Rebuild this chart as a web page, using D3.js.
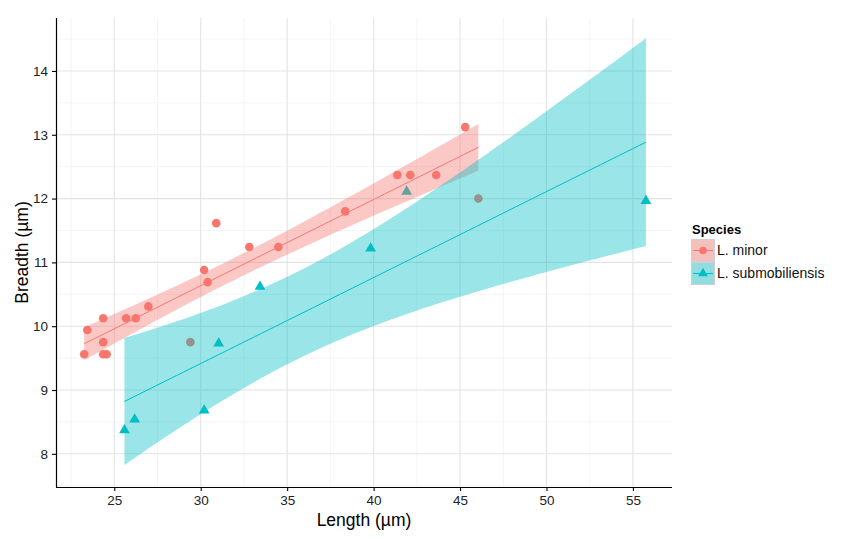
<!DOCTYPE html>
<html><head><meta charset="utf-8">
<script src="https://cdn.jsdelivr.net/npm/d3@7"></script>
<style>body{margin:0;background:#fff} text{font-family:"Liberation Sans",Arial,sans-serif}</style>
</head><body>
<svg id="c" width="861" height="539"></svg>
<script>
// ---- data ----
const species = ["L. minor", "L. submobiliensis"];
const minorLength  = [23.26,23.44,24.36,24.36,24.36,24.56,25.69,26.24,26.97,29.40,30.20,30.40,30.90,32.81,34.49,38.36,41.37,42.12,43.62,45.30,46.06];
const minorBreadth = [9.56, 9.94, 10.125,9.75, 9.56, 9.56, 10.125,10.125,10.31,9.75, 10.88,10.69,11.615,11.24,11.24,11.80,12.37,12.37,12.37,13.12,12.00];
const subLength  = [25.59,26.18,30.20,31.04,33.43,39.83,41.91,55.75];
const subBreadth = [8.37, 8.54, 8.68, 9.73, 10.62,11.22,12.11,11.965];
const xTicks = [25,30,35,40,45,50,55];
const yTicks = [8,9,10,11,12,13,14];
const xMinor = [22.5,27.5,32.5,37.5,42.5,47.5,52.5];
const yMinor = [7.5,8.5,9.5,10.5,11.5,12.5,13.5,14.5];
const colors = ["#F8766D", "#00BFC4"];
const tCrit = {19: 2.0930, 6: 2.4469}; // 97.5% t quantiles

const svg = d3.select("#c");
const L = 56, R = 672, T = 18, B = 487;
const x = d3.scaleLinear().domain([21.63, 57.26]).range([L, R]);
const y = d3.scaleLinear().domain([7.48, 14.83]).range([B, T]);

// grid
const g = svg.append("g");
g.selectAll(".mx").data(xMinor).join("line").attr("x1", d=>x(d)).attr("x2", d=>x(d)).attr("y1", T).attr("y2", B).attr("stroke", "#F4F4F4").attr("stroke-width", 1);
g.selectAll(".my").data(yMinor).join("line").attr("y1", d=>y(d)).attr("y2", d=>y(d)).attr("x1", L).attr("x2", R).attr("stroke", "#F4F4F4").attr("stroke-width", 1);
g.selectAll(".Mx").data(xTicks).join("line").attr("x1", d=>x(d)).attr("x2", d=>x(d)).attr("y1", T).attr("y2", B).attr("stroke", "#E3E3E3").attr("stroke-width", 1.1);
g.selectAll(".My").data(yTicks).join("line").attr("y1", d=>y(d)).attr("y2", d=>y(d)).attr("x1", L).attr("x2", R).attr("stroke", "#E3E3E3").attr("stroke-width", 1.1);

const groups = [
  {name: species[0], xs: minorLength, ys: minorBreadth, color: colors[0], shape: d3.symbolCircle},
  {name: species[1], xs: subLength, ys: subBreadth, color: colors[1], shape: d3.symbolTriangle}
];

// points
groups.forEach(gr => {
  svg.append("g").selectAll("path").data(gr.xs.map((v,i)=>[v, gr.ys[i]])).join("path")
    .attr("d", d3.symbol().type(gr.shape).size(gr.shape === d3.symbolCircle ? 58 : 50))
    .attr("transform", d => `translate(${x(d[0])},${y(d[1])})`)
    .attr("fill", gr.color);
});

// linear fit with 95% CI
function fit(xs, ys) {
  const n = xs.length, mx = d3.mean(xs), my = d3.mean(ys);
  let sxx = 0, sxy = 0;
  xs.forEach((v,i) => { sxx += (v-mx)**2; sxy += (v-mx)*(ys[i]-my); });
  const b = sxy / sxx, a = my - b*mx;
  let sse = 0; xs.forEach((v,i) => { sse += (ys[i] - a - b*v)**2; });
  const s = Math.sqrt(sse / (n-2)), t = tCrit[n-2];
  const lo = d3.min(xs), hi = d3.max(xs);
  return d3.range(81).map(k => {
    const xv = lo + (hi-lo)*k/80, yv = a + b*xv;
    const se = s*Math.sqrt(1/n + (xv-mx)**2/sxx);
    return {x: xv, y: yv, lo: yv - t*se, hi: yv + t*se};
  });
}
groups.forEach(gr => {
  const f = fit(gr.xs, gr.ys);
  svg.append("path").datum(f)
    .attr("d", d3.area().x(d=>x(d.x)).y0(d=>y(d.lo)).y1(d=>y(d.hi)))
    .attr("fill", gr.color).attr("fill-opacity", 0.4);
  svg.append("path").datum(f)
    .attr("d", d3.line().x(d=>x(d.x)).y(d=>y(d.y)))
    .attr("fill", "none").attr("stroke", gr.color).attr("stroke-width", 1);
});

// axes
const xa = svg.append("g").attr("transform", `translate(0,${B})`)
  .call(d3.axisBottom(x).tickValues(xTicks).tickSize(4).tickPadding(4).tickSizeOuter(0));
const ya = svg.append("g").attr("transform", `translate(${L},0)`)
  .call(d3.axisLeft(y).tickValues(yTicks).tickSize(4).tickPadding(4).tickSizeOuter(0));
[xa, ya].forEach(a => {
  a.select(".domain").attr("stroke", "#000").attr("stroke-width", 1.2);
  a.selectAll(".tick line").attr("stroke", "#000").attr("stroke-width", 1.1);
  a.selectAll(".tick text").attr("fill", "#222").style("font-size", "13.5px").style("font-family", "Liberation Sans, Arial, sans-serif");
});
xa.select(".domain").attr("d", `M${L},0.5H${R}`);
ya.select(".domain").attr("d", `M0.5,${T}V${B}`);

svg.append("text").attr("x", (L+R)/2).attr("y", 526).attr("text-anchor", "middle")
  .style("font-size", "17.5px").attr("fill", "#000").text("Length (µm)");
svg.append("text").attr("transform", `translate(28,${(T+B)/2}) rotate(-90)`).attr("text-anchor", "middle")
  .style("font-size", "17.5px").attr("fill", "#000").text("Breadth (µm)");

// legend
const lg = svg.append("g").attr("transform", "translate(691,222)");
lg.append("text").attr("x", 1).attr("y", 12).style("font-size", "13px").style("font-weight", "bold").text("Species");
groups.forEach((gr, i) => {
  const ky = 17 + i*23;
  lg.append("rect").attr("x", 0.5).attr("y", ky+0.5).attr("width", 23).attr("height", 22).attr("fill", "#F2F2F2");
  lg.append("rect").attr("x", 0.5).attr("y", ky+0.5).attr("width", 23).attr("height", 22)
    .attr("fill", gr.color).attr("fill-opacity", 0.4).attr("stroke", "#CFCFCF").attr("stroke-width", 1);
  lg.append("line").attr("x1", 2).attr("x2", 22).attr("y1", ky+11.5).attr("y2", ky+11.5).attr("stroke", gr.color).attr("stroke-width", 1);
  lg.append("path").attr("d", d3.symbol().type(gr.shape).size(gr.shape === d3.symbolCircle ? 45 : 42))
    .attr("transform", `translate(12,${ky+11.5})`).attr("fill", gr.color);
  lg.append("text").attr("x", 26).attr("y", ky+16).style("font-size", "14px").attr("fill", "#111").text(gr.name);
});
</script>
</body></html>
